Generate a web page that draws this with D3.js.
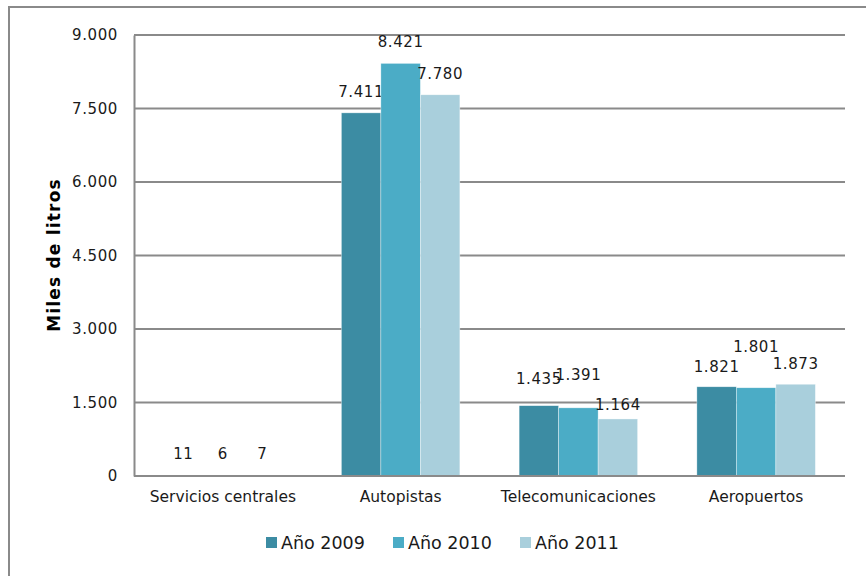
<!DOCTYPE html>
<html>
<head>
<meta charset="utf-8">
<script src="https://cdn.jsdelivr.net/npm/d3@7"></script>
<style>
  html, body { margin: 0; padding: 0; background: #fff; }
  svg { display: block; font-family: "DejaVu Sans", Verdana, sans-serif; }
</style>
</head>
<body>
<div id="chart"></div>
<script>
'use strict';

var categories = ['Servicios centrales', 'Autopistas', 'Telecomunicaciones', 'Aeropuertos'];
var seriesNames = ['Año 2009', 'Año 2010', 'Año 2011'];
var values2009 = [11, 7411, 1435, 1821];
var values2010 = [6, 8421, 1391, 1801];
var values2011 = [7, 7780, 1164, 1873];
var yTicks = [0, 1500, 3000, 4500, 6000, 7500, 9000];

var colors = ['#3c8ca3', '#4bacc6', '#a9cfdc'];
// how far each data label sits above its bar (the original labels were nudged by hand)
var labelLift = [[16, 16, 22, 15], [17, 16, 28, 36], [17, 16, 9, 15]];

var width = 866, height = 576,
    margin = {top: 35, right: 21, bottom: 100, left: 134};

var locale = d3.formatLocale({decimal: ',', thousands: '.', grouping: [3], currency: ['', '']}),
    fmt = locale.format(',d');

var series = [values2009, values2010, values2011];

var svg = d3.select('#chart').append('svg').attr('width', width).attr('height', height);

// outer frame (only top and left edges show in the picture)
svg.append('path')
  .attr('d', 'M9,' + height + 'V7H' + width)
  .attr('fill', 'none').attr('stroke', '#8a8a8a').attr('stroke-width', 2);

// gap width 150%: bars take 3 / 4.5 of each category band
var x0 = d3.scaleBand().domain(categories).range([margin.left, width - margin.right]).paddingInner(0).paddingOuter(0),
    x1 = d3.scaleBand().domain(d3.range(series.length)).range([0, x0.bandwidth()]).paddingInner(0).paddingOuter(0.75),
    y = d3.scaleLinear().domain([0, 9000]).range([height - margin.bottom, margin.top]);

// gridlines
svg.append('g').selectAll('line').data(yTicks).enter().append('line')
  .attr('x1', margin.left).attr('x2', width - margin.right)
  .attr('y1', function (d) { return y(d); }).attr('y2', function (d) { return y(d); })
  .attr('stroke', '#8a8a8a').attr('stroke-width', 2);

// y axis
var yAxis = svg.append('g').attr('transform', 'translate(' + margin.left + ',0)')
  .call(d3.axisLeft(y).tickValues(yTicks).tickSize(0).tickPadding(16).tickFormat(fmt));
yAxis.select('.domain').attr('stroke', '#8a8a8a').attr('stroke-width', 2);
yAxis.selectAll('text').attr('font-size', 15).attr('fill', '#1a1a1a')
  .attr('letter-spacing', 0.6).attr('font-family', '"DejaVu Sans", Verdana, sans-serif');

// bars
var groups = svg.append('g').selectAll('g').data(series).enter().append('g')
  .attr('fill', function (d, i) { return colors[i]; });

groups.each(function (vals, si) {
  var g = d3.select(this);
  g.selectAll('rect').data(vals).enter().append('rect')
    .attr('x', function (d, ci) { return x0(categories[ci]) + x1(si); })
    .attr('y', function (d) { return y(d); })
    .attr('width', x1.bandwidth())
    .attr('height', function (d) { return y(0) - y(d); })
    .attr('stroke', '#fff').attr('stroke-width', 0.6).attr('stroke-opacity', 0.6);
});

// x axis line
svg.append('line')
  .attr('x1', margin.left).attr('x2', width - margin.right)
  .attr('y1', y(0)).attr('y2', y(0))
  .attr('stroke', '#8a8a8a').attr('stroke-width', 2);

// data labels
groups.each(function (vals, si) {
  d3.select(this).selectAll('text').data(vals).enter().append('text')
    .attr('x', function (d, ci) { return x0(categories[ci]) + x1(si) + x1.bandwidth() / 2; })
    .attr('y', function (d, ci) { return y(d) - labelLift[si][ci]; })
    .attr('text-anchor', 'middle')
    .attr('font-size', 15).attr('letter-spacing', 0.6).attr('fill', '#1a1a1a')
    .text(function (d) { return fmt(d); });
});

// category labels
svg.append('g').selectAll('text').data(categories).enter().append('text')
  .attr('x', function (d) { return x0(d) + x0.bandwidth() / 2; })
  .attr('y', y(0) + 26)
  .attr('text-anchor', 'middle')
  .attr('font-size', 15.5).attr('fill', '#1a1a1a')
  .text(function (d) { return d; });

// y title
svg.append('text')
  .attr('transform', 'translate(60,255) rotate(-90)')
  .attr('text-anchor', 'middle')
  .attr('font-size', 17).attr('letter-spacing', 1.2).attr('font-weight', 'bold').attr('fill', '#000')
  .text('Miles de litros');

// legend
var legendX = [266, 393, 520];
var legend = svg.append('g').selectAll('g').data(seriesNames).enter().append('g')
  .attr('transform', function (d, i) { return 'translate(' + legendX[i] + ',537)'; });
legend.append('rect').attr('width', 11).attr('height', 11)
  .attr('fill', function (d, i) { return colors[i]; });
legend.append('text').attr('x', 15).attr('y', 12)
  .attr('font-size', 17.5).attr('fill', '#1a1a1a')
  .text(function (d) { return d; });
</script>
</body>
</html>
